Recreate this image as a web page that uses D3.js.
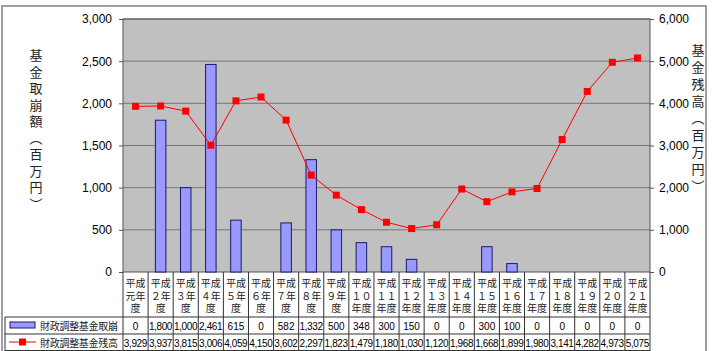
<!DOCTYPE html>
<html>
<head>
<meta charset="utf-8">
<script src="https://d3js.org/d3.v7.min.js"></script>
<style>
  body { margin: 0; background: #fff; }
  text { font-family: "Liberation Sans", Arial, "Noto Sans CJK JP", sans-serif; }
</style>
</head>
<body>
<script>
// data
var years = [
  ["平成","元年","度"], ["平成","２年","度"], ["平成","３年","度"], ["平成","４年","度"],
  ["平成","５年","度"], ["平成","６年","度"], ["平成","７年","度"], ["平成","８年","度"],
  ["平成","９年","度"], ["平成","１０","年度"], ["平成","１１","年度"], ["平成","１２","年度"],
  ["平成","１３","年度"], ["平成","１４","年度"], ["平成","１５","年度"], ["平成","１６","年度"],
  ["平成","１７","年度"], ["平成","１８","年度"], ["平成","１９","年度"], ["平成","２０","年度"],
  ["平成","２１","年度"]
];
var torikuzushi = [0,1800,1000,2461,615,0,582,1332,500,348,300,150,0,0,300,100,0,0,0,0,0];
var zandaka = [3929,3937,3815,3006,4059,4150,3602,2297,1823,1479,1180,1030,1120,1968,1668,1899,1980,3141,4282,4973,5075];
var leftTicks = [0,500,1000,1500,2000,2500,3000];
var rightTicks = [0,1000,2000,3000,4000,5000,6000];
var barName = "財政調整基金取崩";
var lineName = "財政調整基金残高";
var leftTitle = ["基","金","取","崩","額","︵","百","万","円","︶"];
var rightTitle = ["基","金","残","高","︵","百","万","円","︶"];

var W = 719, H = 351;
var px0 = 123, px1 = 650, py0 = 19, py1 = 272;
var tableLeft = 5, row1 = 317, row2 = 334, row3 = 351;

var svg = d3.select("body").append("svg")
  .attr("width", W).attr("height", H);

// outer frame
svg.append("rect").attr("x", 2).attr("y", 6).attr("width", 704).attr("height", 360)
  .attr("fill", "none").attr("stroke", "#808080").attr("stroke-width", 1.5);

var x = d3.scaleBand().domain(d3.range(years.length)).range([px0, px1]);
var yL = d3.scaleLinear().domain([0, 3000]).range([py1, py0]);
var yR = d3.scaleLinear().domain([0, 6000]).range([py1, py0]);

// plot area
svg.append("rect").attr("x", px0).attr("y", py0).attr("width", px1 - px0).attr("height", py1 - py0)
  .attr("fill", "#c0c0c0");

svg.append("g").selectAll("line").data(leftTicks.slice(1)).enter().append("line")
  .attr("x1", px0).attr("x2", px1)
  .attr("y1", function(d){ return yL(d); }).attr("y2", function(d){ return yL(d); })
  .attr("stroke", "#777").attr("stroke-width", 1);

svg.append("rect").attr("x", px0).attr("y", py0).attr("width", px1 - px0).attr("height", py1 - py0)
  .attr("fill", "none").attr("stroke", "#555").attr("stroke-width", 1);

// axes
var axL = svg.append("g").attr("transform", "translate(" + px0 + ",0)")
  .call(d3.axisLeft(yL).tickValues(leftTicks).tickSize(4).tickPadding(7).tickFormat(d3.format(",")));
var axR = svg.append("g").attr("transform", "translate(" + px1 + ",0)")
  .call(d3.axisRight(yR).tickValues(rightTicks).tickSize(4).tickPadding(5).tickFormat(d3.format(",")));
[axL, axR].forEach(function(a){
  a.select(".domain").remove();
  a.selectAll("line").attr("stroke", "#555");
  a.selectAll("text").attr("font-size", 12).attr("fill", "#000")
    .style("font-family", "'Liberation Sans', Arial, sans-serif");
});

// bars
var bw = 10.5;
svg.append("g").selectAll("rect")
  .data(torikuzushi.map(function(v, i){ return {v: v, i: i}; }).filter(function(d){ return d.v > 0; }))
  .enter().append("rect")
  .attr("x", function(d){ return x(d.i) + x.bandwidth()/2 - bw/2; })
  .attr("y", function(d){ return yL(d.v); })
  .attr("width", bw)
  .attr("height", function(d){ return py1 - yL(d.v); })
  .attr("fill", "#9999ff").attr("stroke", "#1a1a66").attr("stroke-width", 1);

// line
var line = d3.line()
  .x(function(d, i){ return x(i) + x.bandwidth()/2; })
  .y(function(d){ return yR(d); });
svg.append("path").datum(zandaka).attr("d", line)
  .attr("fill", "none").attr("stroke", "#ff0000").attr("stroke-width", 1);
svg.append("g").selectAll("rect").data(zandaka).enter().append("rect")
  .attr("x", function(d, i){ return x(i) + x.bandwidth()/2 - 3.5; })
  .attr("y", function(d){ return yR(d) - 3.5; })
  .attr("width", 7).attr("height", 7).attr("fill", "#ff0000");

// axis titles
svg.append("g").selectAll("text").data(leftTitle).enter().append("text")
  .attr("x", 36).attr("y", function(d, i){ return 60 + i * 16.5; })
  .attr("text-anchor", "middle").attr("font-size", 13).attr("fill", "#222").text(function(d){ return d; });
svg.append("g").selectAll("text").data(rightTitle).enter().append("text")
  .attr("x", 698).attr("y", function(d, i){ return 55 + i * 17; })
  .attr("text-anchor", "middle").attr("font-size", 13).attr("fill", "#222").text(function(d){ return d; });

// data table
var tg = svg.append("g").attr("stroke", "#333").attr("stroke-width", 1);
tg.selectAll("line.v").data(d3.range(years.length + 1)).enter().append("line")
  .attr("x1", function(i){ return px0 + i * x.bandwidth(); })
  .attr("x2", function(i){ return px0 + i * x.bandwidth(); })
  .attr("y1", py1).attr("y2", row3);
tg.append("line").attr("x1", tableLeft).attr("x2", tableLeft).attr("y1", row1).attr("y2", row3);
[row1, row2, row3 - 0.5].forEach(function(yy){
  tg.append("line").attr("x1", tableLeft).attr("x2", px1).attr("y1", yy).attr("y2", yy);
});

var cat = svg.append("g").selectAll("g").data(years).enter().append("g")
  .attr("transform", function(d, i){ return "translate(" + (x(i) + x.bandwidth()/2) + ",0)"; });
cat.selectAll("text").data(function(d){ return d; }).enter().append("text")
  .attr("y", function(d, j){ return 287 + j * 12.5; })
  .attr("text-anchor", "middle").attr("font-size", 10).attr("fill", "#222")
  .text(function(d){ return d; });

svg.append("g").selectAll("text").data(torikuzushi).enter().append("text")
  .attr("x", function(d, i){ return x(i) + x.bandwidth()/2; }).attr("y", 329.5)
  .attr("text-anchor", "middle").attr("font-size", 10)
  .attr("textLength", function(d){ return d >= 1000 ? 23.5 : null; })
  .text(function(d){ return d3.format(",")(d); });
svg.append("g").selectAll("text").data(zandaka).enter().append("text")
  .attr("x", function(d, i){ return x(i) + x.bandwidth()/2; }).attr("y", 346.5)
  .attr("text-anchor", "middle").attr("font-size", 10).attr("textLength", 23.5)
  .text(function(d){ return d3.format(",")(d); });

// legend keys
svg.append("rect").attr("x", 10).attr("y", 322).attr("width", 25).attr("height", 6)
  .attr("fill", "#9999ff").attr("stroke", "#1a1a66");
svg.append("text").attr("x", 40).attr("y", 330).attr("font-size", 10)
  .attr("textLength", 78).attr("fill", "#222").text(barName);
svg.append("line").attr("x1", 9).attr("x2", 36).attr("y1", 342).attr("y2", 342)
  .attr("stroke", "#ff0000").attr("stroke-width", 1);
svg.append("rect").attr("x", 19).attr("y", 338.5).attr("width", 7).attr("height", 7).attr("fill", "#ff0000");
svg.append("text").attr("x", 40).attr("y", 347).attr("font-size", 10)
  .attr("textLength", 78).attr("fill", "#222").text(lineName);
</script>
</body>
</html>
